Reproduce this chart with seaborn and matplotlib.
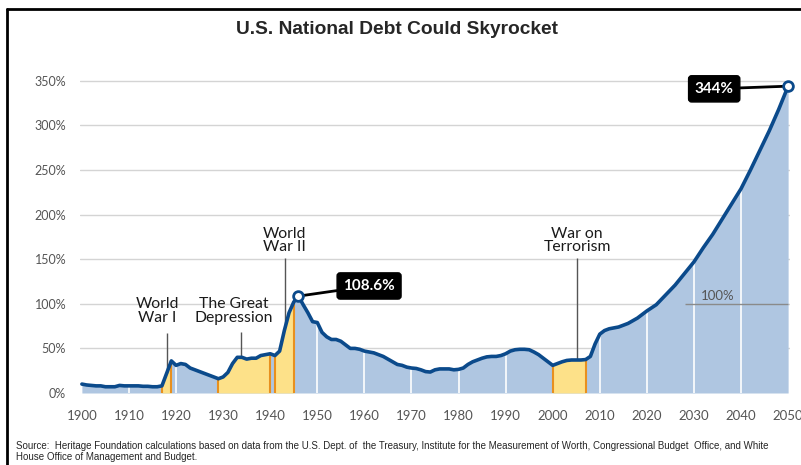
import matplotlib
matplotlib.use("Agg")
import matplotlib.pyplot as plt
import numpy as np
import pandas as pd
import seaborn as sns
from matplotlib.lines import Line2D

# debt held by the public, % of GDP
YEARS = [
    1900, 1901, 1902, 1903, 1904, 1905, 1906, 1907, 1908, 1909,
    1910, 1911, 1912, 1913, 1914, 1915, 1916, 1917, 1918, 1919,
    1920, 1921, 1922, 1923, 1924, 1925, 1926, 1927, 1928, 1929,
    1930, 1931, 1932, 1933, 1934, 1935, 1936, 1937, 1938, 1939,
    1940, 1941, 1942, 1943, 1944, 1945, 1946, 1947, 1948, 1949,
    1950, 1951, 1952, 1953, 1954, 1955, 1956, 1957, 1958, 1959,
    1960, 1961, 1962, 1963, 1964, 1965, 1966, 1967, 1968, 1969,
    1970, 1971, 1972, 1973, 1974, 1975, 1976, 1977, 1978, 1979,
    1980, 1981, 1982, 1983, 1984, 1985, 1986, 1987, 1988, 1989,
    1990, 1991, 1992, 1993, 1994, 1995, 1996, 1997, 1998, 1999,
    2000, 2001, 2002, 2003, 2004, 2005, 2006, 2007, 2008, 2009,
    2010, 2011, 2012, 2013, 2014, 2015, 2016, 2017, 2018, 2019,
    2020, 2022, 2024, 2026, 2028, 2030, 2032, 2034, 2036, 2038,
    2040, 2042, 2044, 2046, 2048, 2050,
]
DEBT = [
    10, 9, 8.5, 8, 8, 7, 7, 7, 8.5, 8,
    8, 8, 8, 7.5, 7.5, 7, 7, 8, 22, 36,
    31, 33, 32, 28, 26, 24, 22, 20, 18, 16,
    18, 23, 33, 40, 40, 38, 39, 39, 42, 43,
    44, 42, 47, 70, 90, 102, 108.6, 99, 90, 80,
    79, 68, 63, 60, 60, 58, 54, 50, 50, 49,
    47, 46, 45, 43, 41, 38, 35, 32, 31, 29,
    28, 27.5, 26, 24, 23.5, 26, 27, 27, 27, 26,
    26.5, 28, 32, 35, 37, 39, 40.5, 41, 41, 42,
    44, 47, 48.5, 49, 49, 48.5, 46, 43, 39, 35,
    31, 33, 35, 36.5, 37, 37, 37, 37.5, 41, 55,
    66, 70, 72, 73, 74, 76, 78, 81, 84, 88,
    92, 99, 110, 121, 134, 147, 163, 178, 195, 212,
    229, 250, 272, 294, 318, 344,
]

# shaded episodes (start, end)
EPISODES = [(1917, 1919), (1929, 1940), (1941, 1945), (2000, 2007)]

# event labels: text, label x, line x, label y, top of pointer line
EVENTS = [
    ("World\nWar I", 1916.1, 1918.0, 92, 67),
    ("The Great\nDepression", 1932.3, 1933.9, 92, 68),
    ("World\nWar II", 1943.1, 1943.2, 171, 151),
    ("War on\nTerrorism", 2005.2, 2005.2, 171, 151),
]

X_TICKS = list(range(1900, 2051, 10))
Y_TICKS = [0, 50, 100, 150, 200, 250, 300, 350]
Y_LABELS = [f"{v}%" for v in Y_TICKS]

LINE_COLOR = "#0b4a8b"
FILL_COLOR = "#afc6e1"
YELLOW = "#fde189"
ORANGE = "#e8901e"

df = pd.DataFrame({"year": YEARS, "debt": DEBT})
yrs = df["year"].to_numpy(dtype=float)
vals = df["debt"].to_numpy(dtype=float)

sns.set_theme(style="white")
plt.rcParams["font.family"] = ["Lato", "DejaVu Sans"]

fig = plt.figure(figsize=(8.01, 4.65), dpi=100)
ax = fig.add_axes([80 / 801, 1 - 393 / 465, 710 / 801, (393 - 71.9) / 465])

ax.set_xlim(1899.6, 2050.4)
ax.set_ylim(0, 360)

# horizontal gridlines behind the fill
for v in Y_TICKS[1:]:
    ax.axhline(v, color="#d4d4d4", lw=1, zorder=0.5)

ax.fill_between(yrs, 0, vals, color=FILL_COLOR, lw=0, zorder=1)

# white decade lines inside the fill
for x in X_TICKS[1:-1]:
    ax.vlines(x, 0, np.interp(x, yrs, vals), color="white", lw=1.2, zorder=1.5)

for a, b in EPISODES:
    mask = (yrs >= a) & (yrs <= b)
    ax.fill_between(yrs, 0, vals, where=mask, color=YELLOW, lw=0, zorder=2)
    for x in (a, b):
        ax.vlines(x, 0, np.interp(x, yrs, vals), color=ORANGE, lw=1.5, zorder=2.2)

# 100% reference line drawn over the projection
ax.hlines(100, 2028, 2050, color="#8a8a8a", lw=1, zorder=2.5)
ax.text(2035.1, 109, "100%", fontsize=9.5, color="#555555", ha="center", va="center", zorder=3)

sns.lineplot(data=df, x="year", y="debt", color=LINE_COLOR, lw=2.6, ax=ax, zorder=4)

for text, tx, lx, ty, ltop in EVENTS:
    ax.text(tx, ty, text, fontsize=11.3, color="#1a1a1a", ha="center", va="center",
            linespacing=0.95, zorder=5)
    ax.vlines(lx, np.interp(lx, yrs, vals), ltop, color="#555555", lw=1, zorder=3)

# callouts
for x, y, label, bx, by in [(1946, 108.6, "108.6%", 1961.0, 120), (2050, 344, "344%", 2034.3, 341)]:
    ax.annotate(label, xy=(x, y), xytext=(bx, by), fontsize=11, fontweight="bold",
                color="white", ha="center", va="center", zorder=6,
                bbox=dict(boxstyle="round,pad=0.4,rounding_size=0.2", fc="black", ec="black"),
                arrowprops=dict(arrowstyle="-", color="black", lw=2, shrinkA=0, shrinkB=3),
                annotation_clip=False)
    ax.plot([x], [y], "o", ms=7, mfc="white", mec=LINE_COLOR, mew=2, zorder=7, clip_on=False)

ax.set_xticks(X_TICKS)
ax.set_yticks(Y_TICKS)
ax.set_yticklabels(Y_LABELS)
ax.tick_params(axis="x", length=0, pad=12, labelsize=9.5, labelcolor="#555555")
ax.tick_params(axis="y", length=0, pad=10, labelsize=9, labelcolor="#555555")
ax.set_xlabel("")
ax.set_ylabel("")
ax.grid(False)
sns.despine(ax=ax, left=True, bottom=True)

fig.text(397 / 801, 1 - 29 / 465, "U.S. National Debt Could Skyrocket", ha="center", va="center",
         fontsize=13.8, fontweight="bold", family=["Liberation Sans", "DejaVu Sans"])
fig.text(16 / 801, 1 - 441 / 465,
         "Source:  Heritage Foundation calculations based on data from the U.S. Dept. of  the Treasury, "
         "Institute for the Measurement of Worth, Congressional Budget  Office, and White\n"
         "House Office of Management and Budget.",
         ha="left", va="top", fontsize=7.0, linespacing=1.1,
         family=["Liberation Sans Narrow", "Liberation Sans", "DejaVu Sans"])

# frame on left and top edge
fig.add_artist(Line2D([7 / 801, 7 / 801], [0, 1 - 9 / 465], color="black", lw=2, transform=fig.transFigure))
fig.add_artist(Line2D([7 / 801, 1], [1 - 9 / 465, 1 - 9 / 465], color="black", lw=2, transform=fig.transFigure))

fig.savefig("out.png", dpi=100)
